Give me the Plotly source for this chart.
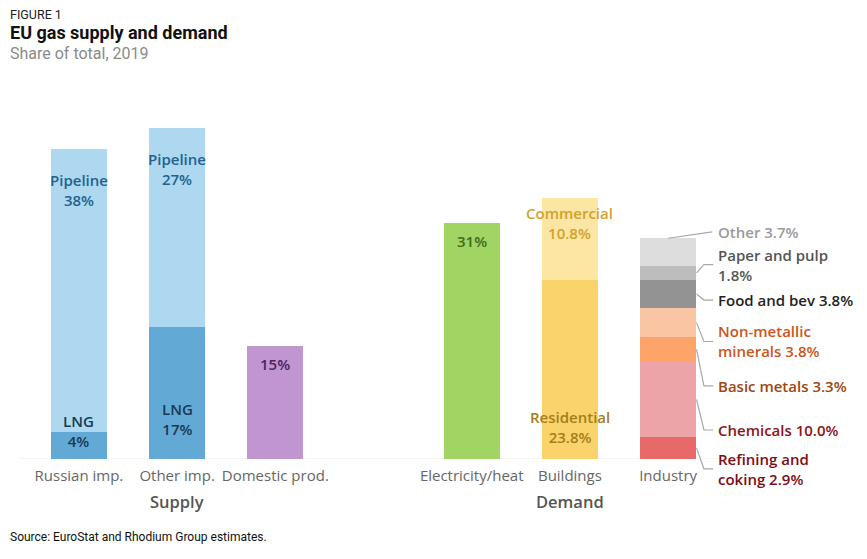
import plotly.graph_objects as go

FONT = "Open Sans, Roboto, sans-serif"
TFONT = "Roboto, Open Sans, sans-serif"

# ---------------- data ----------------
categories = ["Russian imp.", "Other imp.", "Domestic prod.",
              "Electricity/heat", "Buildings", "Industry"]
groups = ["Supply", "Supply", "Supply", "Demand", "Demand", "Demand"]

# supply
pipeline = [37.5, 26.5]          # Russian, Other
lng = [3.6, 17.5]
domestic = 15.0
pipeline_labels = ["Pipeline<br>38%", "Pipeline<br>27%"]
lng_labels = ["LNG<br>4%", "LNG<br>17%"]
domestic_label = "15%"

# demand
electricity = 31.3
residential = 23.7
commercial = 10.9
electricity_label = "31%"
residential_label = "Residential<br>23.8%"
commercial_label = "Commercial<br>10.8%"

# industry, bottom to top
ind_names = ["Refining and<br>coking", "Chemicals", "Basic metals",
             "Non-metallic<br>minerals", "Food and bev", "Paper and pulp<br>",
             "Other"]
ind_values = [2.9, 10.0, 3.3, 3.8, 3.8, 1.8, 3.7]
ind_text = ["2.9%", "10.0%", "3.3%", "3.8%", "3.8%", "1.8%", "3.7%"]

# ---------------- styles ----------------
c_pipe, c_lng = "#add8f0", "#63a9d6"
c_dom, c_elec = "#c195cf", "#a2d463"
c_res, c_com = "#fad46a", "#fde6a3"
ind_colors = ["#e76a68", "#eca4a9", "#fea46a", "#f9c5a2", "#939393", "#bdbdbd", "#dddddd"]
ind_label_colors = ["#7d0c14", "#8c1418", "#a0460f", "#c9561c", "#222222", "#555555", "#9a9a9a"]
# label vertical positions (in % units) for the industry call-outs
ind_label_y = [-1.3, 3.85, 9.7, 15.6, 21.1, 25.8, 30.15]
Y_MAX = 45.0

# x positions: leave one empty slot between the two groups
xpos = []
p = 0
for i, g in enumerate(groups):
    if i > 0 and g != groups[i - 1]:
        p += 1
    xpos.append(p)
    p += 1

BW = 0.57
fig = go.Figure()


def add_bar(x, y, color):
    fig.add_trace(go.Bar(x=[x], y=[y], marker=dict(color=color, line=dict(width=0)),
                         width=BW, showlegend=False, hoverinfo="skip"))


# supply stacks
for i in range(2):
    add_bar(xpos[i], lng[i], c_lng)
    add_bar(xpos[i], pipeline[i], c_pipe)
add_bar(xpos[2], domestic, c_dom)
# demand stacks
add_bar(xpos[3], electricity, c_elec)
add_bar(xpos[4], residential, c_res)
add_bar(xpos[4], commercial, c_com)
for v, c in zip(ind_values, ind_colors):
    add_bar(xpos[5], v, c)

ann = []
LS = 15


def lab(x, y, text, color, yshift, size=LS):
    ann.append(dict(x=x, y=y, xref="x", yref="y", text=text, showarrow=False,
                    yanchor="middle", xanchor="center", yshift=yshift,
                    font=dict(family=FONT, size=size, color=color, weight=600)))


for i in range(2):
    lab(xpos[i], lng[i] + pipeline[i], pipeline_labels[i], "#22628f", -41)
lab(xpos[0], 0, lng_labels[0], "#163a54", 28)
lab(xpos[1], 0, lng_labels[1], "#163a54", 40)
lab(xpos[2], domestic, domestic_label, "#4d2262", -18)
lab(xpos[3], electricity, electricity_label, "#3d6b1d", -18)
lab(xpos[4], residential + commercial, commercial_label, "#d1a22c", -25)
lab(xpos[4], 0, residential_label, "#a67d1b", 32)

# industry call-outs (y in paper units so they may sit below the baseline)
shapes = []
xi = xpos[5]
right = xi + BW / 2
cum = 0
for k, (v, nm, tx, lc, ly) in enumerate(zip(ind_values, ind_names, ind_text,
                                            ind_label_colors, ind_label_y)):
    mid = cum + v / 2
    top = cum + v
    cum = top
    if nm == "Other":
        pts = [(xi, top), (xi + 0.45, ly)]
    else:
        pts = [(right + 0.005, mid), (right + 0.08, ly), (right + 0.175, ly)]
    path = "M " + " L ".join(f"{a},{b / Y_MAX}" for a, b in pts)
    shapes.append(dict(type="path", path=path, xref="x", yref="paper",
                       line=dict(color="#a8a8a8", width=1.2)))
    txt = nm + (" " if not nm.endswith("<br>") else "") + tx
    ann.append(dict(x=right + 0.21, y=ly / Y_MAX, xref="x", yref="paper", text=txt,
                    showarrow=False, xanchor="left", yanchor="middle", align="left",
                    borderpad=0,
                    font=dict(family=FONT, size=LS, color=lc, weight=600)))

# baseline
shapes.append(dict(type="line", xref="paper", yref="y", x0=0, x1=1, y0=0, y1=0,
                   line=dict(color="#e9e9e9", width=1), layer="below"))

# group titles
for gname in ["Supply", "Demand"]:
    idx = [i for i, g in enumerate(groups) if g == gname]
    ann.append(dict(x=xpos[idx[len(idx) // 2]], y=0, xref="x", yref="y", text=gname,
                    showarrow=False, yanchor="middle", yshift=-42,
                    font=dict(family=FONT, size=16.5, color="#555555", weight=600)))

# titles and source
ann += [
    dict(x=-0.017, y=1.31, xref="paper", yref="paper", text="FIGURE 1", showarrow=False,
         xanchor="left", yanchor="middle", font=dict(family=TFONT, size=12.5, color="#222222")),
    dict(x=-0.017, y=1.257, xref="paper", yref="paper", text="<b>EU gas supply and demand</b>",
         showarrow=False, xanchor="left", yanchor="middle",
         font=dict(family=TFONT, size=18, color="#111111")),
    dict(x=-0.017, y=1.195, xref="paper", yref="paper", text="Share of total, 2019",
         showarrow=False, xanchor="left", yanchor="middle",
         font=dict(family=TFONT, size=16, color="#8a8a8a")),
    dict(x=-0.017, y=-0.230, xref="paper", yref="paper",
         text="Source: EuroStat and Rhodium Group estimates.", showarrow=False,
         xanchor="left", yanchor="middle", font=dict(family=TFONT, size=12, color="#111111")),
]

fig.update_layout(
    barmode="stack",
    width=859, height=551,
    margin=dict(l=12, r=140, t=112, b=100),
    plot_bgcolor="white", paper_bgcolor="white",
    xaxis=dict(range=[-0.6, 6.6], tickvals=xpos, ticktext=categories, showgrid=False,
               zeroline=False, showline=False, ticks="", ticklabelstandoff=6,
               tickfont=dict(family=FONT, size=15, color="#666666")),
    yaxis=dict(range=[0, Y_MAX], visible=False, showgrid=False, zeroline=False),
    annotations=ann, shapes=shapes,
)

fig.write_html("out.html")
